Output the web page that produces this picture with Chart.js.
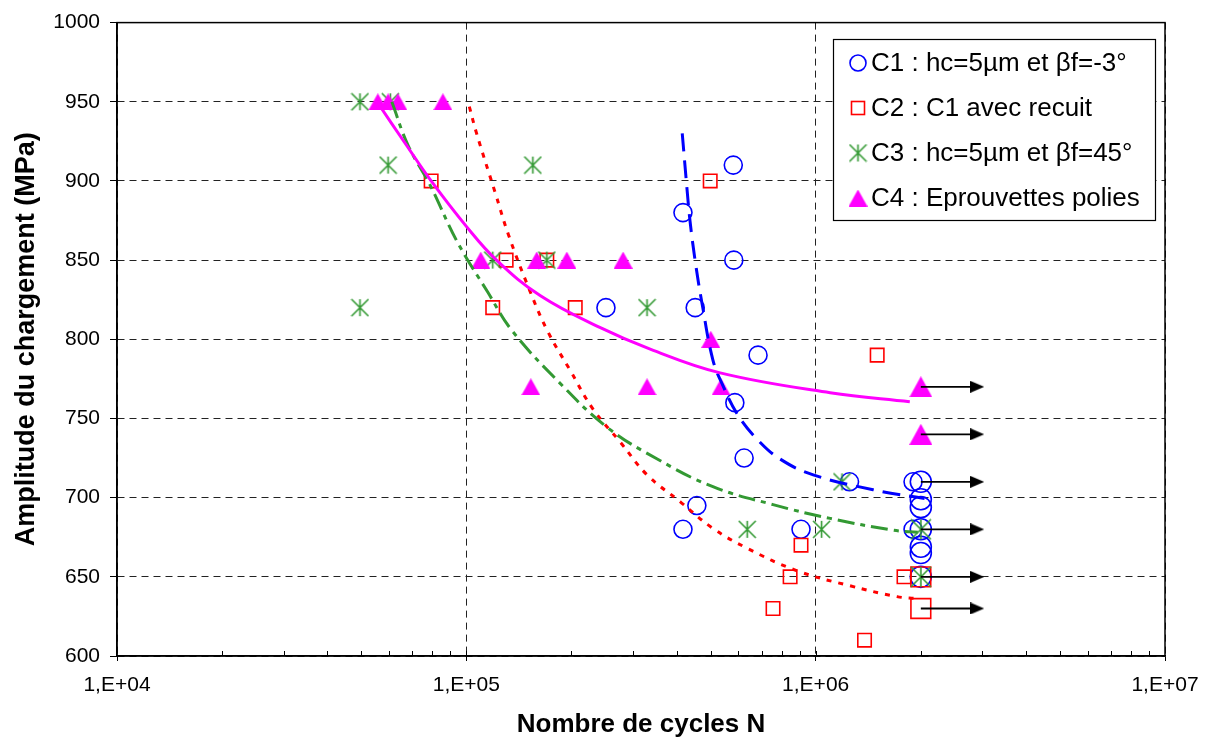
<!DOCTYPE html>
<html><head><meta charset="utf-8">
<script src="https://cdn.jsdelivr.net/npm/chart.js@4.4.0/dist/chart.umd.min.js"></script>
<style>html,body{margin:0;padding:0;background:#fff}#wrap{width:1211px;height:740px;position:relative}</style>
</head><body><div id="wrap"><canvas id="c"></canvas></div>
<script>
// ---------- DATA ----------
const xTickValues = [1e4, 1e5, 1e6, 1e7];
const yTickValues = [600, 650, 700, 750, 800, 850, 900, 950, 1000];

const c1Label = 'C1 : hc=5µm et βf=-3°';
const c1Cycles = [2.51e5, 4.17e5, 5.81e5, 5.83e5, 4.52e5, 6.84e5, 5.87e5, 6.24e5, 4.17e5, 4.57e5, 9.08e5, 1.25e6, 1.90e6, 2.0e6, 2.0e6, 2.0e6, 1.90e6, 2.0e6, 2.0e6, 2.0e6, 2.0e6];
const c1Stress = [820, 880, 910, 850, 820, 790, 760, 725, 680, 695, 680, 710, 710, 710, 699, 694, 680, 680, 669, 665, 650];

const c2Label = 'C2 : C1 avec recuit';
const c2Cycles = [7.93e4, 1.19e5, 1.30e5, 2.05e5, 1.70e5, 4.99e5, 1.50e6, 9.08e5, 8.45e5, 7.55e5, 1.38e6, 1.79e6, 2.0e6, 2.0e6];
const c2Stress = [900, 820, 850, 820, 850, 900, 790, 670, 650, 630, 610, 650, 650, 630];

const c3Label = 'C3 : hc=5µm et βf=45°';
const c3Cycles = [4.96e4, 6.06e4, 5.97e4, 4.96e4, 1.55e5, 1.19e5, 1.70e5, 3.29e5, 6.37e5, 1.04e6, 1.19e6, 2.0e6, 2.0e6];
const c3Stress = [950, 950, 910, 820, 910, 850, 850, 820, 680, 680, 710, 680, 650];

const c4Label = 'C4 : Eprouvettes polies';
const c4Cycles = [5.58e4, 5.97e4, 6.37e4, 8.57e4, 1.10e5, 1.59e5, 1.94e5, 2.81e5, 5.01e5, 1.53e5, 3.29e5, 5.36e5, 2.0e6, 2.0e6];
const c4Stress = [950, 950, 950, 950, 850, 850, 850, 850, 800, 770, 770, 770, 770, 740];

// trend curves
const c1FitCycles = [4.15e5, 4.29e5, 4.37e5, 4.52e5, 4.73e5, 5.08e5, 5.43e5, 6.00e5, 6.80e5, 7.91e5, 9.84e5, 1.46e6, 2.05e6];
const c1FitStress = [930, 893, 874.4, 849.4, 822.5, 786.9, 770.6, 751.9, 736.9, 724.4, 714.4, 705, 699.4];
const c2FitCycles = [1.02e5, 1.07e5, 1.21e5, 1.32e5, 1.52e5, 1.71e5, 1.98e5, 2.31e5, 2.76e5, 3.29e5, 4.09e5, 5.08e5, 6.36e5, 8.85e5, 1.25e6, 1.71e6, 1.94e6];
const c2FitStress = [947, 930, 892.5, 866, 830.6, 805, 780.6, 755.6, 735, 714.4, 697.5, 680.6, 668.1, 653.8, 644.4, 637.5, 636.3];
const c3FitCycles = [6.12e4, 6.81e4, 7.87e4, 9.40e4, 1.15e5, 1.35e5, 1.85e5, 2.53e5, 3.52e5, 5.08e5, 7.55e5, 1.10e6, 1.67e6, 1.96e6];
const c3FitStress = [950, 922.5, 897.5, 861.9, 830, 805.6, 772.5, 744.4, 724.4, 706.9, 695.6, 686.9, 679.4, 678.1];
const c4FitCycles = [5.55e4, 6.68e4, 7.93e4, 1.0e5, 1.22e5, 1.63e5, 2.41e5, 3.36e5, 5.33e5, 1.10e6, 1.86e6];
const c4FitStress = [950, 923.8, 900, 871.3, 850, 827.5, 807.5, 793.8, 778.8, 766.3, 760.6];

// run-out arrows
const arrowLevels = [770, 740, 710, 680, 650, 630];
const arrowFrom = 2.0e6;
const arrowTo = 2.9e6;

// ---------- STYLE ----------
const FONT = '"Liberation Sans", Arial, sans-serif';
const BLUE = '#0000ff', RED = '#ff0000', GREEN = '#339933', MAG = '#ff00ff';

function pts(xs, ys) { return xs.map((x, i) => ({ x: x, y: ys[i] })); }

function makeCanvas(w, h) { const c = document.createElement('canvas'); c.width = w; c.height = h; return c; }
function makeStar(size) {
  const s = Math.ceil(size) + 2, c = makeCanvas(s, s), g = c.getContext('2d');
  const m = s / 2, h = size / 2;
  g.strokeStyle = GREEN; g.lineWidth = 1.6; g.beginPath();
  g.moveTo(m, m - h); g.lineTo(m, m + h);
  g.moveTo(m - h, m - h); g.lineTo(m + h, m + h);
  g.moveTo(m + h, m - h); g.lineTo(m - h, m + h);
  g.stroke();
  return c;
}
function makeTri(w, h) {
  const c = makeCanvas(Math.ceil(w), Math.ceil(h)), g = c.getContext('2d');
  g.fillStyle = MAG; g.beginPath();
  g.moveTo(w / 2, 0); g.lineTo(w, h); g.lineTo(0, h); g.closePath(); g.fill();
  return c;
}
function makeArrowHead() {
  const c = makeCanvas(14, 12), g = c.getContext('2d');
  g.fillStyle = '#000'; g.beginPath();
  g.moveTo(0, 0); g.lineTo(14, 6); g.lineTo(0, 12); g.closePath(); g.fill();
  return c;
}
const starSmall = makeStar(17), starBig = makeStar(20);
const triSmall = makeTri(19, 17), triBig = makeTri(23, 21);
const arrowHead = makeArrowHead();
const isEnd = (ctx) => ctx.raw && ctx.raw.x >= 1.95e6;

const curve = (label, xs, ys, color, dash) => ({
  label: label, data: pts(xs, ys), showLine: true, borderColor: color, backgroundColor: color,
  borderWidth: 3, borderDash: dash, pointRadius: 0, pointHoverRadius: 0,
  tension: 0.4, fill: false, legendHidden: true
});

const arrows = arrowLevels.map(lv => ({
  label: 'arrow', data: [{ x: arrowFrom, y: lv }, { x: arrowTo, y: lv }], showLine: true,
  borderColor: '#000', borderWidth: 1.8, pointStyle: arrowHead,
  pointRadius: (ctx) => ctx.dataIndex === 1 ? 6 : 0, legendHidden: true
}));

const datasets = [
  ...arrows,
  curve('fit C4', c4FitCycles, c4FitStress, MAG, []),
  curve('fit C1', c1FitCycles, c1FitStress, BLUE, [18, 9]),
  curve('fit C3', c3FitCycles, c3FitStress, GREEN, [17, 6, 5, 6]),
  curve('fit C2', c2FitCycles, c2FitStress, RED, [5, 7]),
  { label: c4Label, data: pts(c4Cycles, c4Stress), pointStyle: (ctx) => isEnd(ctx) ? triBig : triSmall, pointRadius: 9, legendImg: triSmall },
  { label: c3Label, data: pts(c3Cycles, c3Stress), pointStyle: (ctx) => isEnd(ctx) ? starBig : starSmall, pointRadius: 9, legendImg: starSmall },
  { label: c2Label, data: pts(c2Cycles, c2Stress), pointStyle: 'rect', pointRadius: (ctx) => isEnd(ctx) ? 14 : 9.5,
    borderColor: RED, backgroundColor: 'rgba(0,0,0,0)', pointBorderWidth: 1.6, legendShape: 'rect' },
  { label: c1Label, data: pts(c1Cycles, c1Stress), pointStyle: 'circle', pointRadius: (ctx) => isEnd(ctx) ? 10.5 : 9,
    borderColor: BLUE, backgroundColor: 'rgba(0,0,0,0)', pointBorderWidth: 1.6, legendShape: 'circle' }
];

const deco = {
  id: 'deco',
  beforeDatasetsDraw(chart) {
    const { ctx, chartArea: a } = chart, x = chart.scales.x;
    ctx.save();
    ctx.setLineDash([]);
    ctx.strokeStyle = '#000'; ctx.lineWidth = 1.5;
    ctx.strokeRect(a.left, a.top, a.right - a.left, a.bottom - a.top);
    ctx.lineWidth = 1; ctx.beginPath();
    for (let d = 0; d < xTickValues.length - 1; d++) {
      for (let k = 2; k <= 9; k++) {
        const px = Math.round(x.getPixelForValue(xTickValues[d] * k)) + 0.5;
        ctx.moveTo(px, a.bottom); ctx.lineTo(px, a.bottom - 5);
      }
      if (d > 0) { const px = Math.round(x.getPixelForValue(xTickValues[d])) + 0.5; ctx.moveTo(px, a.bottom); ctx.lineTo(px, a.bottom - 5); }
    }
    ctx.stroke();
    ctx.restore();
  },
  afterDraw(chart) {
    const ctx = chart.ctx;
    const L = 833, T = 39, R = 1155, B = 220;
    ctx.save();
    ctx.setLineDash([]);
    ctx.fillStyle = '#fff'; ctx.fillRect(L, T, R - L, B - T);
    ctx.strokeStyle = '#000'; ctx.lineWidth = 1.2; ctx.strokeRect(L + 0.5, T + 0.5, R - L, B - T);
    const items = chart.data.datasets.filter(d => !d.legendHidden).reverse();
    const ys = [63, 108, 153, 198];
    ctx.font = '26px ' + FONT; ctx.textBaseline = 'middle'; ctx.fillStyle = '#000';
    items.forEach((d, i) => {
      const y = ys[i], mx = 858;
      if (d.legendImg) ctx.drawImage(d.legendImg, mx - d.legendImg.width / 2, y - d.legendImg.height / 2);
      else if (d.legendShape === 'circle') { ctx.strokeStyle = BLUE; ctx.lineWidth = 1.6; ctx.beginPath(); ctx.arc(mx, y, 8, 0, Math.PI * 2); ctx.stroke(); }
      else if (d.legendShape === 'rect') { ctx.strokeStyle = RED; ctx.lineWidth = 1.6; ctx.strokeRect(mx - 6.5, y - 6.5, 13, 13); }
      ctx.fillStyle = '#000';
      ctx.fillText(d.label, 871, y + 1);
    });
    ctx.restore();
  }
};

new Chart(document.getElementById('c'), {
  type: 'scatter',
  data: { datasets: datasets },
  plugins: [deco],
  options: {
    responsive: true, maintainAspectRatio: false, animation: false,
    layout: { padding: { left: 0, right: 46, top: 16, bottom: 0 } },
    plugins: { legend: { display: false }, tooltip: { enabled: false } },
    scales: {
      x: {
        type: 'logarithmic', min: xTickValues[0], max: xTickValues[xTickValues.length - 1],
        afterBuildTicks: (s) => { s.ticks = xTickValues.map(v => ({ value: v, major: true })); },
        afterFit: (s) => { s.height = 84; },
        ticks: { autoSkip: false, maxRotation: 0, padding: 12, color: '#000', font: { family: FONT, size: 21 },
          callback: (v) => '1,E+' + String(Math.round(Math.log10(v))).padStart(2, '0') },
        grid: { color: '#222', lineWidth: 1, tickLength: 5, tickColor: '#000', tickBorderDash: [] },
        border: { display: true, color: '#000', width: 1.5, dash: [7, 5] },
        title: { display: true, text: 'Nombre de cycles N', color: '#000', font: { family: FONT, size: 26, weight: 'bold' }, padding: { top: 0, bottom: 0 } }
      },
      y: {
        type: 'linear', min: yTickValues[0], max: yTickValues[yTickValues.length - 1],
        afterBuildTicks: (s) => { s.ticks = yTickValues.map(v => ({ value: v })); },
        afterFit: (s) => { s.width = 117; },
        ticks: { padding: 10, color: '#000', font: { family: FONT, size: 21 }, callback: (v) => String(v) },
        grid: { color: '#222', lineWidth: 1, tickLength: 7, tickColor: '#000', tickBorderDash: [] },
        border: { display: true, color: '#000', width: 1.5, dash: [7, 5] },
        title: { display: true, text: 'Amplitude du chargement (MPa)', color: '#000', font: { family: FONT, size: 27, weight: 'bold' }, padding: { top: 10, bottom: 0 } }
      }
    }
  }
});
</script>
</body></html>
